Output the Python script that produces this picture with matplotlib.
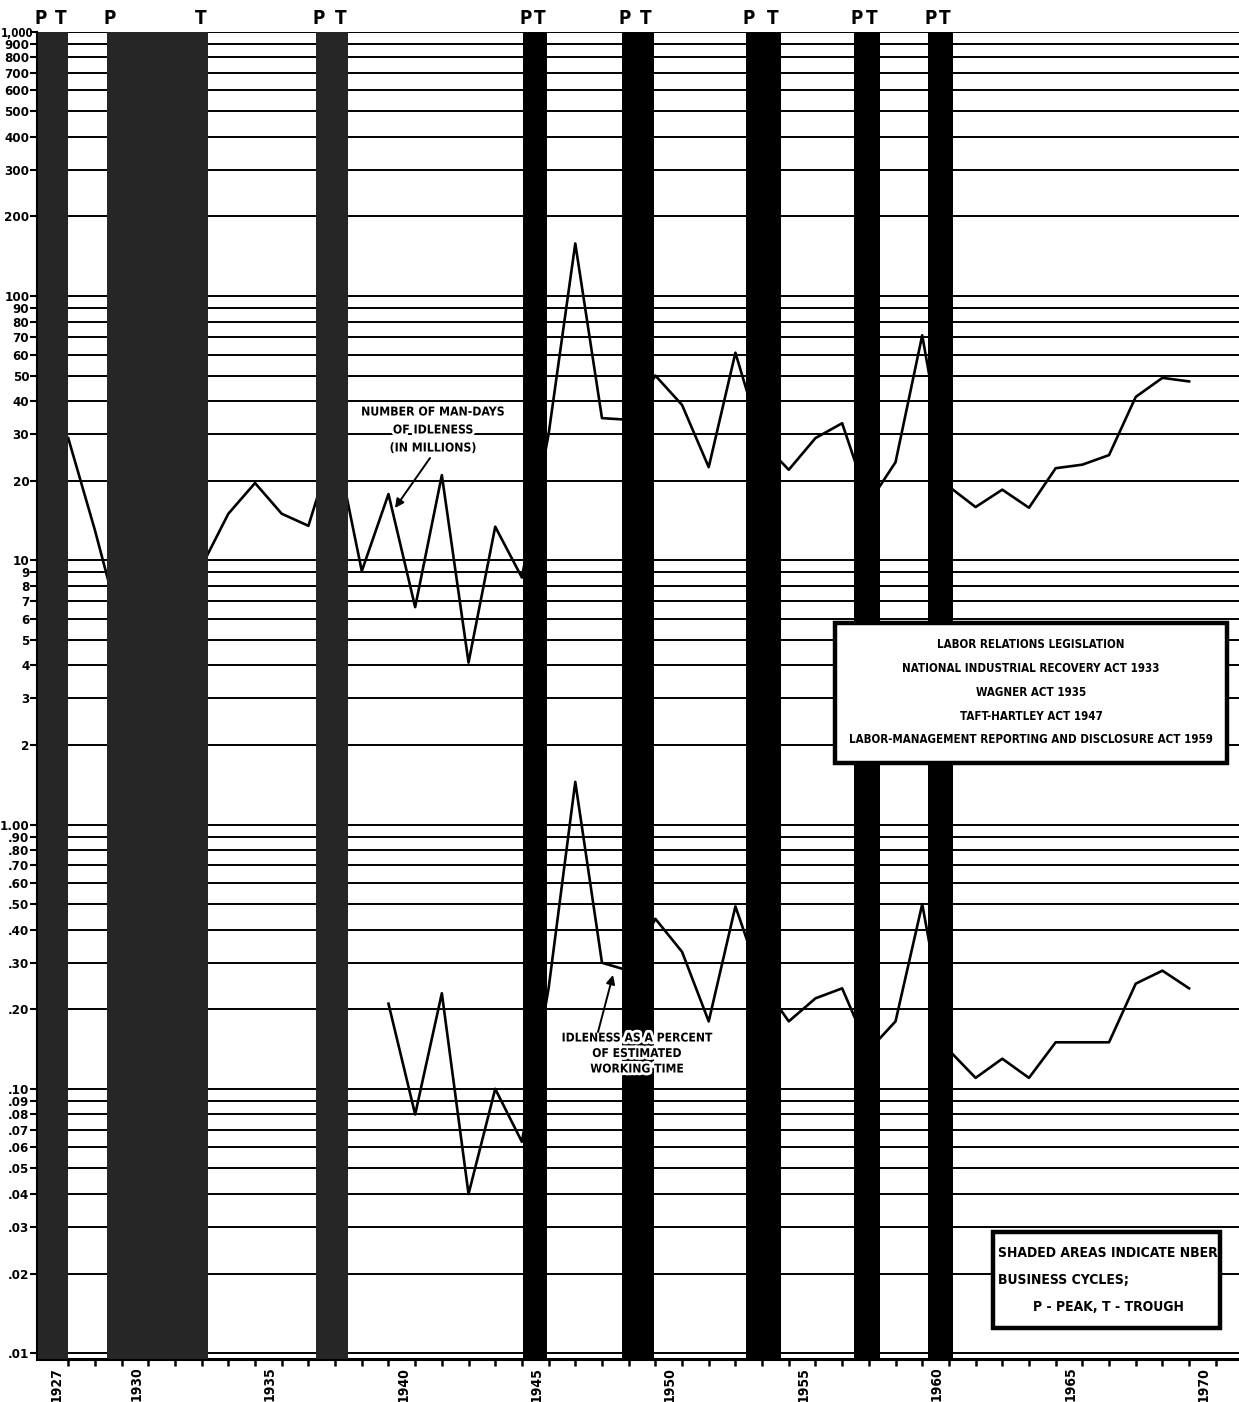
import matplotlib
matplotlib.use("Agg")
import matplotlib.pyplot as plt
import matplotlib.transforms as mtransforms
import matplotlib.patheffects as pe
from matplotlib import font_manager as fm
from matplotlib.patches import Rectangle

# man-days of idleness, millions (1927-1969)
years = list(range(1927, 1970))
man_days = [29, 13, 5.4, 3.3, 6.9, 9.5, 15, 19.6, 15, 13.5,
            28.5, 9.1, 17.8, 6.65, 21, 4.1, 13.4, 8.6, 30, 158,
            34.5, 34, 50, 38.7, 22.5, 61, 28, 22, 29, 33,
            16.5, 23.5, 71, 19, 15.9, 18.5, 15.8, 22.3, 23, 25,
            41.5, 49, 47.5]

# idleness as percent of estimated working time (1939-1969)
pct_years = list(range(1939, 1970))
pct_idle = [0.21, 0.08, 0.23, 0.04, 0.10, 0.063, 0.24, 1.45, 0.30, 0.28,
            0.44, 0.33, 0.18, 0.49, 0.25, 0.18, 0.22, 0.24, 0.14, 0.18,
            0.50, 0.14, 0.11, 0.13, 0.11, 0.15, 0.15, 0.15, 0.25, 0.28,
            0.24]

# NBER business cycles (peak -> trough), as drawn on the time axis
cycle_start = [1925.85, 1928.45, 1936.3, 1944.05, 1947.75, 1952.4, 1956.45, 1959.2]
cycle_end = [1927.0, 1932.25, 1937.5, 1944.95, 1948.95, 1953.7, 1957.4, 1960.15]
cycle_color = ['#262626', '#262626', '#262626', 'black', 'black', 'black', 'black', 'black']

ytick_vals = [1000, 900, 800, 700, 600, 500, 400, 300, 200,
              100, 90, 80, 70, 60, 50, 40, 30, 20,
              10, 9, 8, 7, 6, 5, 4, 3, 2,
              1, .9, .8, .7, .6, .5, .4, .3, .2,
              .1, .09, .08, .07, .06, .05, .04, .03, .02, .01]
ytick_labels = ['1,000', '900', '800', '700', '600', '500', '400', '300', '200',
                '100', '90', '80', '70', '60', '50', '40', '30', '20',
                '10', '9', '8', '7', '6', '5', '4', '3', '2',
                '1.00', '.90', '.80', '.70', '.60', '.50', '.40', '.30', '.20',
                '.10', '.09', '.08', '.07', '.06', '.05', '.04', '.03', '.02', '.01']
xlabel_years = [1927, 1930, 1935, 1940, 1945, 1950, 1955, 1960, 1965, 1970]

legislation = ['LABOR RELATIONS LEGISLATION',
               'NATIONAL INDUSTRIAL RECOVERY ACT 1933',
               'WAGNER ACT 1935',
               'TAFT-HARTLEY ACT 1947',
               'LABOR-MANAGEMENT REPORTING AND DISCLOSURE ACT 1959']
man_days_note = ['NUMBER OF MAN-DAYS', 'OF IDLENESS', '(IN MILLIONS)']
pct_note = ['IDLENESS AS A PERCENT', 'OF ESTIMATED', 'WORKING TIME']
cycle_note = ['SHADED AREAS INDICATE NBER', 'BUSINESS CYCLES;', 'P - PEAK, T - TROUGH']


def pick_narrow_bold():
    # look for a condensed / narrow bold face among installed fonts
    best = None
    for f in fm.fontManager.ttflist:
        tag = (f.name + ' ' + f.fname + ' ' + str(f.stretch)).lower()
        if not any(k in tag for k in ('narrow', 'condensed')):
            continue
        if 'semi' in tag or 'extra' in tag or 'ultra' in tag or 'italic' in tag or 'oblique' in tag:
            continue
        w = f.weight if isinstance(f.weight, int) else fm.weight_dict.get(f.weight, 400)
        if w < 600:
            continue
        rank = 5
        for i, k in enumerate(('liberation', 'dejavu', 'roboto', 'open', 'noto')):
            if k in tag:
                rank = i
                break
        if best is None or rank < best[0]:
            best = (rank, f.fname)
    return best[1] if best else None


narrow = pick_narrow_bold()


def fp(size):
    if narrow:
        return fm.FontProperties(fname=narrow, size=size)
    return fm.FontProperties(family='DejaVu Sans', weight='bold', stretch='condensed', size=size * 0.85)


W, H = 1239, 1402
fig = plt.figure(figsize=(W / 100, H / 100), dpi=100)
ax = fig.add_axes([37 / W, 1 - 1359 / H, 1 - 37 / W, (1359 - 31.7) / H])


def figtext(px, py, s, size, ha='center', **kw):
    # place text by pixel position in the figure
    return ax.text(px / W, 1 - py / H, s, transform=fig.transFigure, ha=ha, va='center',
                   fontproperties=fp(size), clip_on=False, **kw)


ax.set_yscale('log')
ax.set_xlim(1925.83, 1970.87)
ax.set_ylim(0.0095, 1000)

ax.set_yticks(ytick_vals)
ax.set_yticklabels(ytick_labels)
ax.yaxis.set_minor_locator(plt.NullLocator())
ax.tick_params(axis='y', length=5, width=1.5, pad=0.5)
nudge = mtransforms.ScaledTranslation(0.04, 0, fig.dpi_scale_trans)
for lab in ax.get_yticklabels():
    if lab.get_text() == '1,000':
        lab.set_fontproperties(fp(8.3))
        lab.set_transform(lab.get_transform() + nudge)
    else:
        lab.set_fontproperties(fp(9.5))
ax.grid(axis='y', color='black', lw=1.4, zorder=1)
ax.set_axisbelow(True)

xt = list(range(1927, 1971))
ax.set_xticks(xt)
ax.set_xticklabels([str(y) if y in xlabel_years else '' for y in xt], rotation=90)
ax.tick_params(axis='x', length=5, width=1.8, pad=0.5)
shift = mtransforms.ScaledTranslation(-0.12, 0, fig.dpi_scale_trans)
for lab in ax.get_xticklabels():
    lab.set_fontproperties(fp(10))
    lab.set_transform(lab.get_transform() + shift)

for s in ['top', 'right']:
    ax.spines[s].set_visible(False)
ax.spines['bottom'].set_linewidth(2.2)
ax.spines['left'].set_linewidth(1.5)

ax.plot(years, man_days, color='black', lw=1.9, zorder=2)
ax.plot(pct_years, pct_idle, color='black', lw=1.9, zorder=2)

top = mtransforms.blended_transform_factory(ax.transData, ax.transAxes)
for x0, x1, c in zip(cycle_start, cycle_end, cycle_color):
    ax.axvspan(x0, x1, color=c, lw=0, zorder=3)
    ax.text(x0 + 0.1, 1.0103, 'P', transform=top, ha='center', va='center',
            fontproperties=fp(13.5), clip_on=False)
    ax.text(x1 - 0.3, 1.0103, 'T', transform=top, ha='center', va='center',
            fontproperties=fp(13.5), clip_on=False)

halo = [pe.withStroke(linewidth=4, foreground='white')]
for line, py in zip(man_days_note, [412, 430, 448]):
    figtext(433, py, line, 8.8, zorder=4, path_effects=halo)
ax.annotate('', xy=(395 / W, 1 - 508 / H), xytext=(430 / W, 1 - 458 / H),
            xycoords='figure fraction', textcoords='figure fraction', zorder=4,
            arrowprops=dict(arrowstyle='-|>', color='black', lw=1.4,
                            mutation_scale=13, shrinkA=0, shrinkB=0))
for line, py in zip(pct_note, [1038, 1053.5, 1069]):
    figtext(637, py, line, 8.7, zorder=4, path_effects=halo)
ax.annotate('', xy=(613 / W, 1 - 975 / H), xytext=(598 / W, 1 - 1032 / H),
            xycoords='figure fraction', textcoords='figure fraction', zorder=4,
            arrowprops=dict(arrowstyle='-|>', color='black', lw=1.4,
                            mutation_scale=13, shrinkA=0, shrinkB=0))

# legislation box
ax.add_patch(Rectangle((835 / W, 1 - 763 / H), (1227 - 835) / W, (763 - 623) / H,
                       transform=fig.transFigure, fc='white', ec='black', lw=3.2,
                       zorder=5, clip_on=False))
for i, line in enumerate(legislation):
    figtext(1031, 645 + 23.7 * i, line, 8.3, zorder=6)

# cycles note box
ax.add_patch(Rectangle((993 / W, 1 - 1328 / H), (1220 - 993) / W, (1328 - 1232) / H,
                       transform=fig.transFigure, fc='white', ec='black', lw=3.2,
                       zorder=5, clip_on=False))
figtext(998, 1253, cycle_note[0], 10, ha='left', zorder=6)
figtext(998, 1280, cycle_note[1], 10, ha='left', zorder=6)
figtext(1033, 1307, cycle_note[2], 10, ha='left', zorder=6)

fig.savefig('out.png', dpi=100)
